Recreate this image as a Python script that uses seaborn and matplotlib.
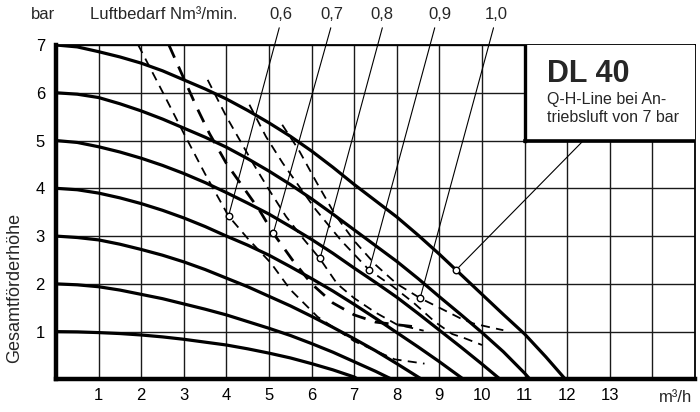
import matplotlib
matplotlib.use("Agg")
import matplotlib.pyplot as plt
import seaborn as sns
import pandas as pd
from matplotlib.patches import Rectangle

# ---- data ----
# Q-H curves for drive air pressure 1..7 bar (flow m3/h, head bar)
flow_1 = [0, 0.5, 1, 1.5, 2, 2.5, 3, 3.5, 4, 4.5, 5, 5.5, 6, 6.5, 7, 7.1]
head_1 = [1.0, 0.995, 0.98, 0.96, 0.93, 0.89, 0.84, 0.78, 0.72, 0.64, 0.55, 0.45, 0.33, 0.20, 0.05, 0]
flow_2 = [0, 0.5, 1, 1.5, 2, 2.5, 3, 3.5, 4, 4.5, 5, 5.5, 6, 6.5, 7, 7.5, 7.89]
head_2 = [2.0, 1.98, 1.94, 1.87, 1.78, 1.69, 1.58, 1.47, 1.35, 1.21, 1.07, 0.92, 0.75, 0.57, 0.37, 0.17, 0]
flow_3 = [0, 0.5, 1, 1.5, 2, 2.5, 3, 3.5, 4, 4.5, 5, 5.5, 6, 6.5, 7, 7.5, 8, 8.59]
head_3 = [3.0, 2.97, 2.92, 2.83, 2.72, 2.60, 2.46, 2.30, 2.12, 1.94, 1.74, 1.54, 1.32, 1.09, 0.85, 0.60, 0.33, 0]
flow_4 = [0, 0.5, 1, 1.5, 2, 2.5, 3, 3.5, 4, 4.5, 5, 5.5, 6, 6.5, 7, 7.5, 8, 8.5, 9, 9.57]
head_4 = [4.0, 3.97, 3.90, 3.80, 3.68, 3.54, 3.38, 3.20, 3.0, 2.81, 2.60, 2.36, 2.11, 1.85,
          1.57, 1.28, 0.98, 0.68, 0.37, 0]
flow_5 = [0, 0.5, 1, 1.5, 2, 2.5, 3, 3.5, 4, 4.5, 5, 5.5, 6, 6.5, 7, 7.5, 8, 8.5, 9, 9.5,
          10, 10.43]
head_5 = [5.0, 4.96, 4.87, 4.76, 4.63, 4.48, 4.31, 4.12, 3.91, 3.69, 3.46, 3.20, 2.93, 2.64,
          2.33, 2.03, 1.72, 1.38, 1.03, 0.68, 0.32, 0]
flow_6 = [0, 0.5, 1, 1.5, 2, 2.5, 3, 3.5, 4, 4.5, 5, 5.5, 6, 6.5, 7, 7.5, 8, 8.5, 9, 9.5,
          10, 10.5, 11, 11.13]
head_6 = [6.0, 5.97, 5.90, 5.77, 5.62, 5.45, 5.26, 5.07, 4.86, 4.62, 4.36, 4.08, 3.78, 3.46,
          3.13, 2.80, 2.47, 2.11, 1.73, 1.36, 0.98, 0.58, 0.13, 0]
flow_7 = [0, 0.5, 1, 1.5, 2, 2.5, 3, 3.5, 4, 4.5, 5, 5.5, 6, 6.5, 7, 7.5, 8, 8.5, 9, 9.5,
          10, 10.5, 11, 11.5, 11.96]
head_7 = [7.0, 6.96, 6.86, 6.75, 6.62, 6.46, 6.27, 6.08, 5.87, 5.63, 5.37, 5.09, 4.78, 4.44,
          4.08, 3.74, 3.40, 3.02, 2.62, 2.20, 1.78, 1.36, 0.95, 0.47, 0]

# air consumption lines (Nm3/min)
air_06_q = [1.93, 2.5, 3.0, 3.5, 4.05, 4.5, 5.05, 5.5, 6.14, 7.0, 7.95, 8.65]
air_06_h = [7.0, 6.02, 5.15, 4.3, 3.42, 2.95, 2.43, 1.88, 1.31, 0.8, 0.42, 0.33]
air_07_q = [2.65, 3.0, 3.3, 3.6, 4.0, 4.38, 4.77, 5.1, 5.55, 6.0, 6.5, 7.0, 7.5, 7.95, 8.44]
air_07_h = [7.0, 6.3, 5.7, 5.15, 4.52, 4.04, 3.55, 3.06, 2.5, 2.0, 1.6, 1.35, 1.2, 1.15, 1.1]
air_08_q = [3.56, 4.0, 4.62, 5.0, 5.4, 5.8, 6.2, 6.6, 7.0, 7.5, 8.0, 8.63]
air_08_h = [6.27, 5.5, 4.53, 3.97, 3.41, 2.95, 2.52, 2.0, 1.7, 1.4, 1.15, 1.02]
air_09_q = [4.54, 4.93, 5.32, 5.7, 6.1, 6.7, 7.35, 7.9, 8.4, 8.9, 9.3, 9.6, 10.0]
air_09_h = [5.75, 5.08, 4.53, 4.05, 3.55, 2.9, 2.29, 1.95, 1.6, 1.2, 0.95, 0.86, 0.72]
air_10_q = [5.31, 5.7, 6.1, 6.55, 7.0, 7.5, 8.0, 8.55, 9.0, 9.49, 9.8, 10.19, 10.5]
air_10_h = [5.33, 4.8, 4.15, 3.45, 2.9, 2.4, 2.0, 1.7, 1.5, 1.28, 1.17, 1.09, 1.03]

air_labels = ["0,6", "0,7", "0,8", "0,9", "1,0"]
marker_q = [4.05, 5.1, 6.2, 7.35, 8.55]
marker_h = [3.42, 3.06, 2.54, 2.29, 1.71]
label_q = [5.29, 6.47, 7.66, 9.01, 10.34]
leader_top_q = [5.24, 6.45, 7.66, 8.89, 10.27]

qh7_marker = (9.39, 2.29)
qh7_leader_end = (12.38, 5.0)

x_ticks = [1, 2, 3, 4, 5, 6, 7, 8, 9, 10, 11, 12, 13, 14]
x_tick_labels = ["1", "2", "3", "4", "5", "6", "7", "8", "9", "10", "11", "12", "13", ""]
y_ticks = [1, 2, 3, 4, 5, 6, 7]
y_tick_labels = ["1", "2", "3", "4", "5", "6", "7"]

# ---- build tables ----
solid = pd.concat([
    pd.DataFrame({"q": q, "h": h, "bar": b})
    for b, (q, h) in enumerate([(flow_1, head_1), (flow_2, head_2), (flow_3, head_3),
                                 (flow_4, head_4), (flow_5, head_5), (flow_6, head_6),
                                 (flow_7, head_7)], start=1)
], ignore_index=True)
dashed_sets = [(air_06_q, air_06_h), (air_07_q, air_07_h), (air_08_q, air_08_h),
               (air_09_q, air_09_h), (air_10_q, air_10_h)]

sns.set_theme(style="white")
plt.rcParams["font.family"] = ["Liberation Sans", "DejaVu Sans"]

fig = plt.figure(figsize=(7, 4.12), dpi=100)
ax = fig.add_axes([0.08, 0.0791, 0.9129, 0.8117])

ax.set_xlim(0, 15)
ax.set_ylim(0, 7)
ax.set_xticks(x_ticks)
ax.set_xticklabels(x_tick_labels, fontsize=12, color="black")
ax.set_yticks(y_ticks)
ax.set_yticklabels(y_tick_labels, fontsize=12, color="black")
ax.tick_params(axis="x", length=0, pad=6)
ax.tick_params(axis="y", length=0, pad=8)
ax.grid(True, color="#1a1a1a", lw=1.0)
ax.set_axisbelow(True)
for side, lw in (("left", 3.2), ("bottom", 3.2), ("top", 1.3), ("right", 1.3)):
    ax.spines[side].set_visible(True)
    ax.spines[side].set_color("black")
    ax.spines[side].set_linewidth(lw)

# solid Q-H curves
for b, grp in solid.groupby("bar"):
    sns.lineplot(data=grp, x="q", y="h", ax=ax, color="black", lw=2.3,
                 sort=False, estimator=None, legend=False, zorder=3)

# dashed air consumption curves
for i, (q, h) in enumerate(dashed_sets):
    sns.lineplot(x=q, y=h, ax=ax, color="black", lw=2.0 if i == 1 else 1.3,
                 sort=False, estimator=None, legend=False, zorder=3,
                 linestyle=(0, (5, 3.5)))

# leader lines and labels
for mq, mh, lq, tq, txt in zip(marker_q, marker_h, label_q, leader_top_q, air_labels):
    ax.plot([mq, tq], [mh, 7.36], color="black", lw=0.8, clip_on=False, zorder=4)
    ax.text(lq, 7.63, txt, ha="center", va="center", fontsize=12, clip_on=False)
ax.plot([qh7_marker[0], qh7_leader_end[0]], [qh7_marker[1], qh7_leader_end[1]],
        color="black", lw=0.8, zorder=4)

sns.scatterplot(x=marker_q + [qh7_marker[0]], y=marker_h + [qh7_marker[1]], ax=ax,
                marker="o", s=22, facecolor="white", edgecolor="black", linewidth=1.0,
                zorder=6, legend=False)

# title box
ax.add_patch(Rectangle((11, 5), 4, 2, facecolor="white", edgecolor="none", zorder=4))
ax.plot([11, 11], [5, 7], color="black", lw=2.4, zorder=5, solid_capstyle="projecting")
ax.plot([11, 15], [5, 5], color="black", lw=2.6, zorder=5, solid_capstyle="projecting")
ax.text(11.53, 6.4, "DL 40", fontsize=22, fontweight="bold", ha="left", va="center", zorder=6)
ax.text(11.53, 5.85, "Q-H-Line bei An-", fontsize=11.5, ha="left", va="center", zorder=6)
ax.text(11.53, 5.49, "triebsluft von 7 bar", fontsize=11.5, ha="left", va="center", zorder=6)

# axis texts
ax.text(-0.3, 7.63, "bar", fontsize=12, ha="center", va="center", clip_on=False)
ax.text(0.8, 7.63, "Luftbedarf Nm³/min.", fontsize=12, ha="left", va="center", clip_on=False)
ax.text(14.54, -0.37, "m³/h", fontsize=12, ha="center", va="center", clip_on=False)
ax.text(-0.96, 1.91, "Gesamtförderhöhe", fontsize=13, rotation=90, ha="center",
        va="center", clip_on=False)

ax.set_xlabel("")
ax.set_ylabel("")
fig.savefig("out.png", dpi=100)
